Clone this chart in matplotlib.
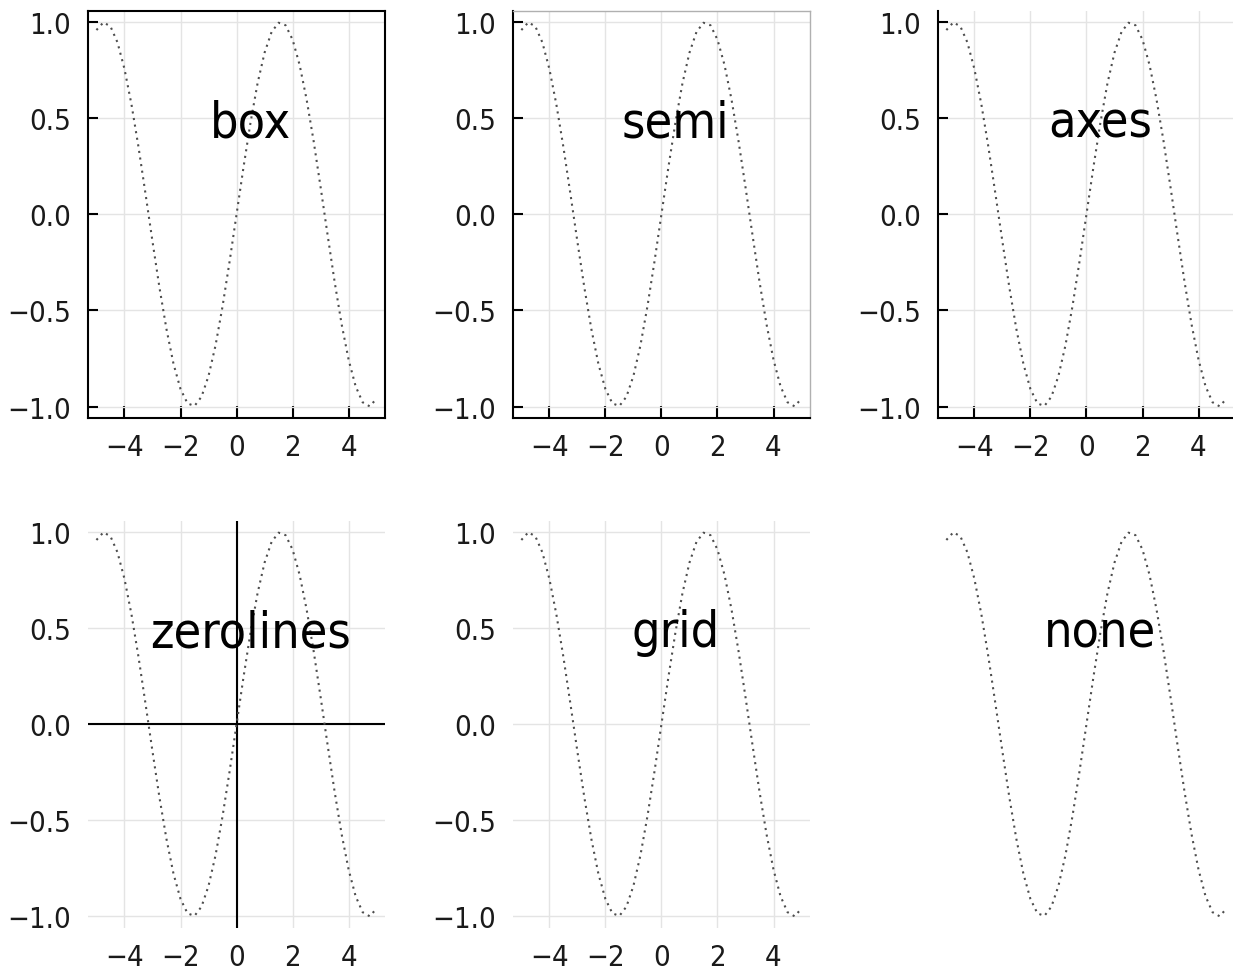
import matplotlib
matplotlib.use("Agg")
import matplotlib.pyplot as plt

# curve values (x from -5 to 5)
xs = [-5.0, -4.75, -4.5, -4.25, -4.0, -3.75, -3.5, -3.25, -3.0, -2.75, -2.5,
      -2.25, -2.0, -1.75, -1.5, -1.25, -1.0, -0.75, -0.5, -0.25, 0.0,
      0.25, 0.5, 0.75, 1.0, 1.25, 1.5, 1.75, 2.0, 2.25, 2.5,
      2.75, 3.0, 3.25, 3.5, 3.75, 4.0, 4.25, 4.5, 4.75, 5.0]
ys = [0.959, 0.999, 0.978, 0.895, 0.757, 0.572, 0.351, 0.108, -0.141, -0.382, -0.598,
      -0.778, -0.909, -0.984, -0.997, -0.949, -0.841, -0.682, -0.479, -0.247, 0.0,
      0.247, 0.479, 0.682, 0.841, 0.949, 0.997, 0.984, 0.909, 0.778, 0.598,
      0.382, 0.141, -0.108, -0.351, -0.572, -0.757, -0.895, -0.978, -0.999, -0.959]

styles = ["box", "semi", "axes", "zerolines", "grid", "none"]
xticks = [-4, -2, 0, 2, 4]
yticks = [-1.0, -0.5, 0.0, 0.5, 1.0]
ytick_labels = ["\u22121.0", "\u22120.5", "0.0", "0.5", "1.0"]
xtick_labels = ["\u22124", "\u22122", "0", "2", "4"]

plt.rcParams['font.family'] = 'DejaVu Sans'
plt.rcParams['font.stretch'] = 'condensed'

fig = plt.figure(figsize=(12.33, 9.70), dpi=100)

lefts = [0.0714, 0.416, 0.7607]
bottoms = [0.568, 0.0423]
w = 0.2409
h = 0.42

for i, style in enumerate(styles):
    ax = fig.add_axes([lefts[i % 3], bottoms[i // 3], w, h])
    ax.plot(xs, ys, color="#4d4d4d", lw=1.5, ls=(0, (1, 2.2)), zorder=3)
    ax.set_xlim(-5.3, 5.3)
    ax.set_ylim(-1.06, 1.06)
    ax.set_xticks(xticks)
    ax.set_xticklabels(xtick_labels)
    ax.set_yticks(yticks)
    ax.set_yticklabels(ytick_labels)
    ax.tick_params(labelsize=21, labelcolor="#1a1a1a", direction="in",
                   width=1.5, color="black")
    ax.tick_params(axis="x", length=9, pad=11)
    ax.tick_params(axis="y", length=7, pad=12)
    ax.grid(True, color="#e4e4e4", lw=1, zorder=0)
    ax.text(0.5, 0.48, style, fontsize=36, ha="center", va="center",
            color="black", zorder=4)

    for s in ax.spines.values():
        s.set_linewidth(1.5)
        s.set_color("black")

    if style == "semi":
        ax.spines["top"].set_color("#b0b0b0")
        ax.spines["right"].set_color("#b0b0b0")
        ax.spines["top"].set_linewidth(1)
        ax.spines["right"].set_linewidth(1)
    elif style == "axes":
        ax.spines["top"].set_visible(False)
        ax.spines["right"].set_visible(False)
    elif style in ("zerolines", "grid", "none"):
        for s in ax.spines.values():
            s.set_visible(False)
        ax.tick_params(length=0)
        if style == "zerolines":
            ax.axhline(0, color="black", lw=1.5, zorder=2)
            ax.axvline(0, color="black", lw=1.5, zorder=2)
        if style == "none":
            ax.grid(False)
            ax.set_xticks([])
            ax.set_yticks([])

fig.savefig("out.png", dpi=100)
